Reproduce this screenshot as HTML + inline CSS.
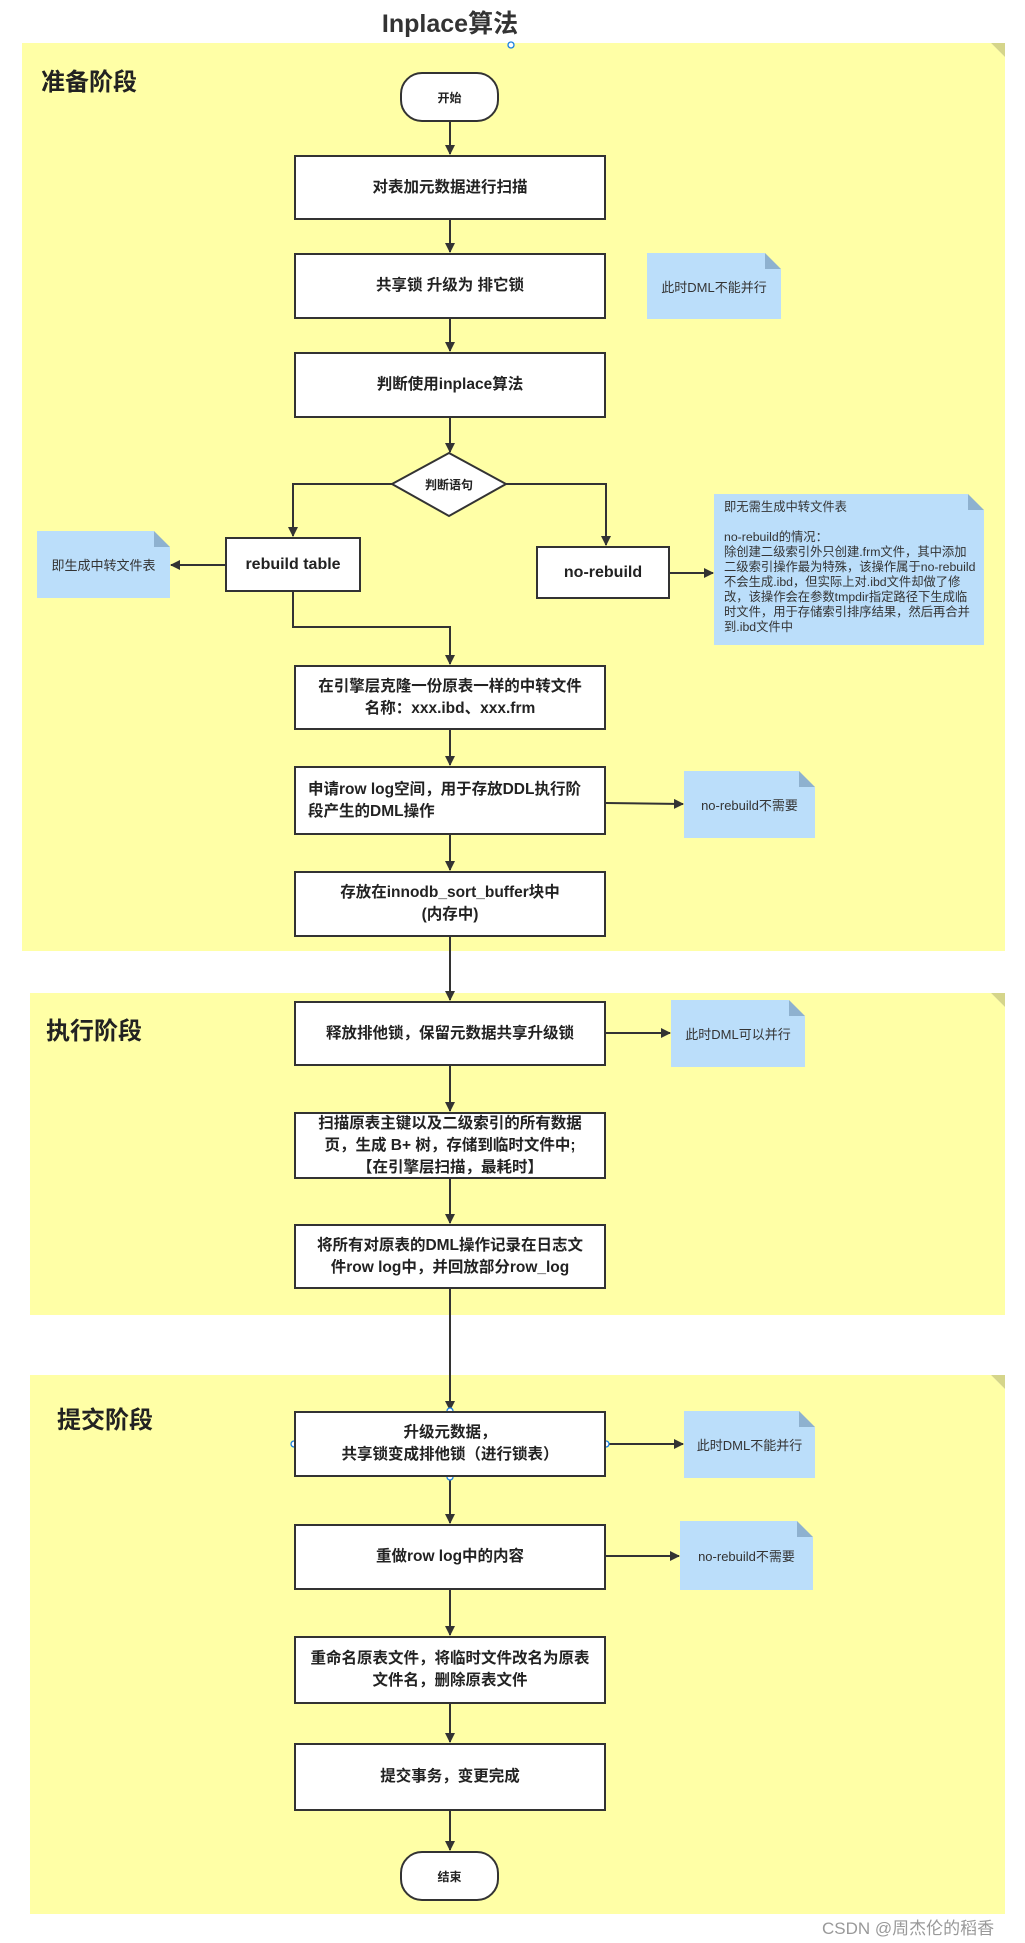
<!DOCTYPE html>
<html><head><meta charset="utf-8"><style>
body{margin:0;width:1025px;height:1943px;background:#fff;position:relative;overflow:hidden;font-family:"Liberation Sans","Noto Sans CJK SC",sans-serif;color:#222}
.a{position:absolute}
.panel{position:absolute;background:#ffffa6}
.panel:after{content:"";position:absolute;right:0;top:0;border-style:solid;border-width:0 14px 14px 0;border-color:transparent #fff transparent transparent}
.fold{position:absolute;width:0;height:0;border-style:solid;border-width:14px 14px 0 0;border-color:transparent #d5d58a transparent transparent}
.box{position:absolute;background:#fff;border:2px solid #333;box-sizing:border-box;display:flex;align-items:center;justify-content:center;text-align:center;font-weight:bold;font-size:15.5px;line-height:22px}
.note{position:absolute;background:#bbdefa;display:flex;align-items:center;justify-content:center;font-size:13px;color:#333;box-sizing:border-box}
.note:after{content:"";position:absolute;right:0;top:0;border-style:solid;border-width:0 16px 16px 0;border-color:#ffffa6 #ffffa6 #8eb1cf #8eb1cf}
.pill{position:absolute;background:#fff;border:2px solid #333;border-radius:22px;box-sizing:border-box;display:flex;align-items:center;justify-content:center;font-size:12px;font-weight:bold}
.h{position:absolute;font-weight:bold;font-size:24px;color:#222}
</style></head><body>
<div class="a" style="left:360px;top:4px;width:180px;text-align:center;font-size:25px;font-weight:bold;color:#333">Inplace算法</div>

<div class="panel" style="left:22px;top:43px;width:983px;height:908px"></div>
<div class="panel" style="left:30px;top:993px;width:975px;height:322px"></div>
<div class="panel" style="left:30px;top:1375px;width:975px;height:539px"></div>
<div class="fold" style="left:991px;top:43px;border-width:14px 14px 0 0;border-color:transparent transparent transparent transparent"></div>

<div class="h" style="left:41px;top:62px">准备阶段</div>
<div class="h" style="left:46px;top:1011px">执行阶段</div>
<div class="h" style="left:57px;top:1400px">提交阶段</div>

<svg class="a" style="left:0;top:0" width="1025" height="1943">
<defs><marker id="ar" markerWidth="10" markerHeight="10" refX="9" refY="5" orient="auto" markerUnits="userSpaceOnUse"><path d="M0,0 L10,5 L0,10 z" fill="#333"/></marker></defs>
<g stroke="#333" stroke-width="2" fill="none" marker-end="url(#ar)">
<line x1="450" y1="122" x2="450" y2="154"/>
<line x1="450" y1="220" x2="450" y2="252"/>
<line x1="450" y1="319" x2="450" y2="351"/>
<line x1="450" y1="418" x2="450" y2="452"/>
<polyline points="392,484 293,484 293,536"/>
<polyline points="506,484 606,484 606,545"/>
<line x1="225" y1="565" x2="171" y2="565"/>
<line x1="670" y1="573" x2="713" y2="573"/>
<polyline points="293,592 293,627 450,627 450,664"/>
<line x1="450" y1="730" x2="450" y2="765"/>
<line x1="606" y1="803" x2="683" y2="804"/>
<line x1="450" y1="835" x2="450" y2="870"/>
<line x1="450" y1="937" x2="450" y2="1000"/>
<line x1="606" y1="1033" x2="670" y2="1033"/>
<line x1="450" y1="1066" x2="450" y2="1111"/>
<line x1="450" y1="1179" x2="450" y2="1223"/>
<line x1="450" y1="1289" x2="450" y2="1410"/>
<line x1="606" y1="1444" x2="683" y2="1444"/>
<line x1="450" y1="1477" x2="450" y2="1523"/>
<line x1="606" y1="1556" x2="679" y2="1556"/>
<line x1="450" y1="1590" x2="450" y2="1635"/>
<line x1="450" y1="1704" x2="450" y2="1742"/>
<line x1="450" y1="1811" x2="450" y2="1850"/>
</g>
<polygon points="449,453 506,484 449,516 392,484" fill="#fff" stroke="#333" stroke-width="2"/>
<text x="449" y="489" font-size="12" font-weight="bold" text-anchor="middle" fill="#222" font-family="Liberation Sans,Noto Sans CJK SC,sans-serif">判断语句</text>
<polygon points="991,43 1005,43 1005,57" fill="#d5d58a"/>
<polygon points="991,993 1005,993 1005,1007" fill="#d5d58a"/>
<polygon points="991,1375 1005,1375 1005,1389" fill="#d5d58a"/>
<g fill="#fff" stroke="#1a7fe0" stroke-width="1.3">
<circle cx="511" cy="45" r="3"/>
<circle cx="450" cy="1411" r="3"/><circle cx="450" cy="1477" r="3"/>
<circle cx="294" cy="1444" r="3"/><circle cx="606" cy="1444" r="3"/>
</g>
</svg>

<div class="pill" style="left:400px;top:72px;width:99px;height:50px">开始</div>
<div class="box" style="left:294px;top:155px;width:312px;height:65px">对表加元数据进行扫描</div>
<div class="box" style="left:294px;top:253px;width:312px;height:66px">共享锁 升级为 排它锁</div>
<div class="note" style="left:647px;top:253px;width:134px;height:66px">此时DML不能并行</div>
<div class="box" style="left:294px;top:352px;width:312px;height:66px">判断使用inplace算法</div>
<div class="box" style="left:225px;top:537px;width:136px;height:55px;font-size:16px">rebuild table</div>
<div class="note" style="left:37px;top:531px;width:133px;height:67px">即生成中转文件表</div>
<div class="box" style="left:536px;top:546px;width:134px;height:53px;font-size:16px">no-rebuild</div>
<div class="note" style="left:714px;top:494px;width:270px;height:151px;display:block;padding:6px 8px 0 10px;font-size:12.3px;line-height:15px">即无需生成中转文件表<br><br>no-rebuild的情况：<br>除创建二级索引外只创建.frm文件，其中添加二级索引操作最为特殊，该操作属于no-rebuild不会生成.ibd，但实际上对.ibd文件却做了修改，该操作会在参数tmpdir指定路径下生成临时文件，用于存储索引排序结果，然后再合并到.ibd文件中</div>
<div class="box" style="left:294px;top:665px;width:312px;height:65px">在引擎层克隆一份原表一样的中转文件<br>名称：xxx.ibd、xxx.frm</div>
<div class="box" style="left:294px;top:766px;width:312px;height:69px;justify-content:flex-start;text-align:left;padding-left:12px">申请row log空间，用于存放DDL执行阶<br>段产生的DML操作</div>
<div class="note" style="left:684px;top:771px;width:131px;height:67px">no-rebuild不需要</div>
<div class="box" style="left:294px;top:871px;width:312px;height:66px">存放在innodb_sort_buffer块中<br>(内存中)</div>

<div class="box" style="left:294px;top:1001px;width:312px;height:65px">释放排他锁，保留元数据共享升级锁</div>
<div class="note" style="left:671px;top:1000px;width:134px;height:67px">此时DML可以并行</div>
<div class="box" style="left:294px;top:1112px;width:312px;height:67px">扫描原表主键以及二级索引的所有数据<br>页，生成 B+ 树，存储到临时文件中;<br>【在引擎层扫描，最耗时】</div>
<div class="box" style="left:294px;top:1224px;width:312px;height:65px">将所有对原表的DML操作记录在日志文<br>件row log中，并回放部分row_log</div>

<div class="box" style="left:294px;top:1411px;width:312px;height:66px">升级元数据，<br>共享锁变成排他锁（进行锁表）</div>
<div class="note" style="left:684px;top:1411px;width:131px;height:67px">此时DML不能并行</div>
<div class="box" style="left:294px;top:1524px;width:312px;height:66px">重做row log中的内容</div>
<div class="note" style="left:680px;top:1521px;width:133px;height:69px">no-rebuild不需要</div>
<div class="box" style="left:294px;top:1636px;width:312px;height:68px">重命名原表文件，将临时文件改名为原表<br>文件名，删除原表文件</div>
<div class="box" style="left:294px;top:1743px;width:312px;height:68px">提交事务，变更完成</div>
<div class="pill" style="left:400px;top:1851px;width:99px;height:50px">结束</div>

<div class="a" style="left:822px;top:1914px;font-size:17px;color:#999;white-space:nowrap">CSDN @周杰伦的稻香</div>
</body></html>
